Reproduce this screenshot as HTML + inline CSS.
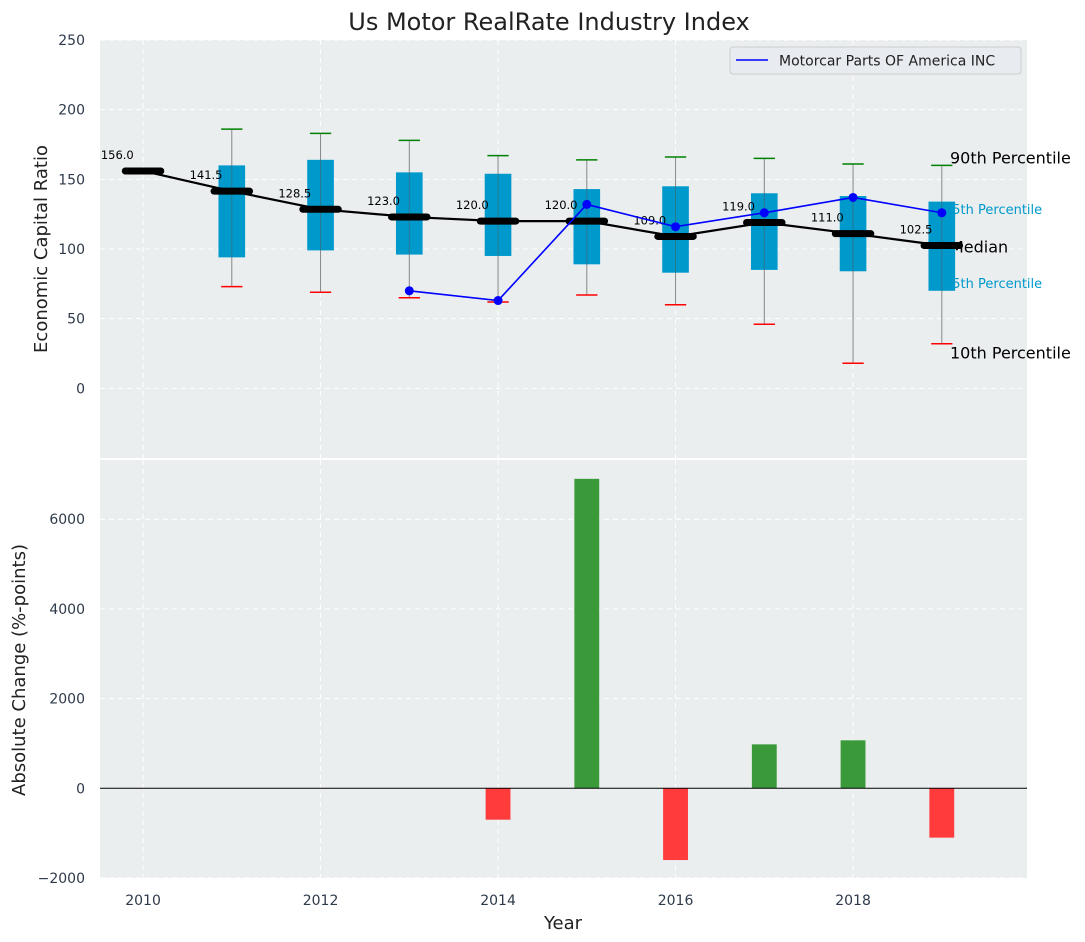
<!DOCTYPE html>
<html><head><meta charset="utf-8"><style>
body{margin:0;background:#fff;}
svg{display:block;font-family:"DejaVu Sans","Liberation Sans",sans-serif;}
</style></head><body>
<svg id="c" width="1085" height="942" viewBox="0 0 1085 942" xmlns="http://www.w3.org/2000/svg"></svg>
<script>
const years=[2011,2012,2013,2014,2015,2016,2017,2018,2019];
const q1=[94,99,96,95,89,83,85,84,70];
const q3=[160,164,155,154,143,145,140,138,134];
const lowW=[73,69,65,62,67,60,46,18,32];
const highW=[186,183,178,167,164,166,165,161,160];
const medYears=[2010,2011,2012,2013,2014,2015,2016,2017,2018,2019];
const medians=[156,141.5,128.5,123,120,120,109,119,111,102.5];
const coYears=[2013,2014,2015,2016,2017,2018,2019];
const coVals=[70,63,132,116,126,137,126];
const barYears=[2014,2015,2016,2017,2018,2019];
const barVals=[-700,6900,-1600,980,1070,-1100];
const topTicks=[0,50,100,150,200,250];
const botTicks=[-2000,0,2000,4000,6000];
const xTicks=[2010,2012,2014,2016,2018];

const NS="http://www.w3.org/2000/svg";
const svg=document.getElementById('c');
function el(t,a,p){const e=document.createElementNS(NS,t);for(const k in a)e.setAttribute(k,a[k]);(p||svg).appendChild(e);return e;}
const L=100,R=1027,T1=40,B1=458,T2=460,B2=878;
const X=v=>L+(v-2009.515)/(2019.96-2009.515)*(R-L);
const Y1=v=>B1-(v+50)/300*(B1-T1);
const Y2=v=>B2-(v+2000)/(7320+2000)*(B2-T2);

let bg1=el('rect',{x:L,y:T1,width:R-L,height:B1-T1,fill:'#eaeeef'});

let bg2=el('rect',{x:L,y:T2,width:R-L,height:B2-T2,fill:'#eaeeef'});


xTicks.forEach(t=>{
  el('line',{x1:X(t),x2:X(t),y1:T1,y2:B1,stroke:'#fff','stroke-dasharray':'5,4','stroke-width':1});
  el('line',{x1:X(t),x2:X(t),y1:T2,y2:B2,stroke:'#fff','stroke-dasharray':'5,4','stroke-width':1});
  let tx=el('text',{x:X(t),y:905,'text-anchor':'middle','font-size':14,fill:'#2e3a4a'});tx.textContent=t;
  
});
topTicks.forEach(t=>{
  el('line',{x1:L,x2:R,y1:Y1(t),y2:Y1(t),stroke:'#fff','stroke-dasharray':'5,4'});
  let tx=el('text',{x:85,y:Y1(t)+5,'text-anchor':'end','font-size':14,fill:'#2e3a4a'});tx.textContent=t;
  
});
botTicks.forEach(t=>{
  el('line',{x1:L,x2:R,y1:Y2(t),y2:Y2(t),stroke:'#fff','stroke-dasharray':'5,4'});
  let tx=el('text',{x:85,y:Y2(t)+5,'text-anchor':'end','font-size':14,fill:'#2e3a4a'});tx.textContent=(t<0?'\u2212'+(-t):t);
  
});

const lab=(txt,x,y,size,col,name)=>{let t=el('text',{x:x,y:y,'font-size':size,fill:col});t.textContent=txt;
  };
lab('90th Percentile',950,Y1(165)+5,16,'#000','label-90th');
lab('75th Percentile',944,Y1(128)+4,13,'#0099cc','label-75th');
lab('Median',950,Y1(101)+5,16,'#000','label-median');
lab('25th Percentile',944,Y1(75)+4,13,'#0099cc','label-25th');
lab('10th Percentile',950,Y1(25)+5,16,'#000','label-10th');

const hw=0.15;
years.forEach((yr,i)=>{
  let w=el('line',{x1:X(yr),x2:X(yr),y1:Y1(lowW[i]),y2:Y1(highW[i]),stroke:'#888','stroke-width':1});
  
  let b=el('rect',{x:X(yr-hw),y:Y1(q3[i]),width:X(yr+hw)-X(yr-hw),height:Y1(q1[i])-Y1(q3[i]),fill:'#0099cc'});
  
  el('line',{x1:X(yr),x2:X(yr),y1:Y1(q1[i]),y2:Y1(q3[i]),stroke:'#555','stroke-width':1,opacity:0.5});
  let h=el('line',{x1:X(yr-0.12),x2:X(yr+0.12),y1:Y1(highW[i]),y2:Y1(highW[i]),stroke:'green','stroke-width':1.5});
  
  let l=el('line',{x1:X(yr-0.12),x2:X(yr+0.12),y1:Y1(lowW[i]),y2:Y1(lowW[i]),stroke:'red','stroke-width':1.5});
  
});

let mp=el('polyline',{points:medYears.map((y,i)=>X(y)+','+Y1(medians[i])).join(' '),fill:'none',stroke:'#000','stroke-width':2.2});

medYears.forEach((yr,i)=>{
  let m=el('line',{x1:X(yr-0.2),x2:X(yr+0.2),y1:Y1(medians[i]),y2:Y1(medians[i]),stroke:'#000','stroke-width':7,'stroke-linecap':'round'});
  
  let t=el('text',{x:X(yr-0.29),y:Y1(medians[i])-12,'text-anchor':'middle','font-size':11.5,fill:'#000'});
  t.textContent=medians[i].toFixed(1);
  
});

let cp=el('polyline',{points:coYears.map((y,i)=>X(y)+','+Y1(coVals[i])).join(' '),fill:'none',stroke:'#0000ff','stroke-width':1.6});

coYears.forEach((yr,i)=>{
  let c=el('circle',{cx:X(yr),cy:Y1(coVals[i]),r:4.5,fill:'#0000ff'});
  
});

let lg=el('g',{});
el('rect',{x:730,y:47,width:291,height:27,rx:3,fill:'#e8ebef',stroke:'#ccc'},lg);
el('line',{x1:736,x2:768,y1:60,y2:60,stroke:'#0000ff','stroke-width':1.6},lg);
let lt=el('text',{x:779,y:65.5,'font-size':14,fill:'#222'},lg);lt.textContent='Motorcar Parts OF America INC';


barYears.forEach((yr,i)=>{
  const v=barVals[i];
  let b=el('rect',{x:X(yr-0.14),y:Math.min(Y2(v),Y2(0)),width:X(yr+0.14)-X(yr-0.14),height:Math.abs(Y2(v)-Y2(0)),fill:v>=0?'#3a9a3a':'#ff3b3b'});
  
});
el('line',{x1:L,x2:R,y1:Y2(0),y2:Y2(0),stroke:'#000','stroke-width':1});

const tt=(txt,a,name)=>{let t=el('text',a);t.textContent=txt;};
tt('Us Motor RealRate Industry Index',{x:549,y:30,'text-anchor':'middle','font-size':24,fill:'#222'},'chart-title');
tt('Economic Capital Ratio',{x:47,y:249,'text-anchor':'middle','font-size':18,fill:'#222',transform:'rotate(-90 47 249)'},'top-y-axis-title');
tt('Absolute Change (%-points)',{x:25,y:670,'text-anchor':'middle','font-size':18,fill:'#222',transform:'rotate(-90 25 670)'},'bottom-y-axis-title');
tt('Year',{x:563,y:929,'text-anchor':'middle','font-size':18,fill:'#222'},'x-axis-title');
</script>
</body></html>
